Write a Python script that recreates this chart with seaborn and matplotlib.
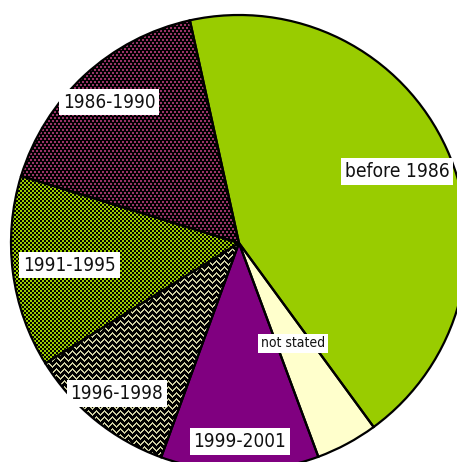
import numpy as np
import matplotlib
matplotlib.use("Agg")
import matplotlib.pyplot as plt
import seaborn as sns
from matplotlib.colors import to_rgb

# Period in which the dwelling was built, share of all dwellings (%)
periods = ["before 1986", "1986-1990", "1991-1995", "1996-1998", "1999-2001", "not stated"]
shares = [43.4, 16.8, 13.6, 10.6, 11.2, 4.4]

# label styling / placement (fraction of radius along the slice bisector)
label_sizes = [13.8, 13.6, 13.6, 13.6, 13.6, 10]
label_radius = [0.76, 0.84, 0.75, 0.85, 0.87, 0.50]

GREEN = "#99CC00"
PLUM = "#993366"
PURPLE = "#800080"
CREAM = "#FFFFCC"
BEIGE = "#CCCCA0"
BLACK = "#000000"

sns.set_theme(style="white")
plt.rcParams["font.family"] = ["DejaVu Sans"]
plt.rcParams["font.stretch"] = "condensed"

W, H, DPI = 457, 462, 100
fig = plt.figure(figsize=(W / DPI, H / DPI), dpi=DPI)
ax = fig.add_axes([0, 0, 1, 1])

# pixel geometry of the pie inside the canvas
R_PX = 228.0
CX, CY = 239.0, 243.0
xlim = (-CX / R_PX, (W - CX) / R_PX)
ylim = (-(H - CY) / R_PX, CY / R_PX)

face = [GREEN, BLACK, BLACK, BLACK, PURPLE, CREAM]
wedges, _ = ax.pie(shares, startangle=306.2, counterclock=True, colors=face,
                   wedgeprops=dict(linewidth=0, edgecolor="none"))


# ---- pixel textures for the patterned slices ----
yy, xx = np.mgrid[0:H, 0:W]


def paint(mask, fg, bg):
    img = np.empty((H, W, 3))
    img[:] = to_rgb(bg)
    img[mask] = to_rgb(fg)
    return img


# staggered 2x2 dots on black
band = yy % 6
dots = ((band < 2) & (xx % 4 < 2)) | ((band >= 3) & (band < 5) & (xx % 4 >= 2))
tex_dots = paint(dots, PLUM, BLACK)

# checkerboard on green
checker = ((yy // 2 + xx // 2) % 2) == 0
tex_checker = paint(checker, BLACK, GREEN)

# zig-zag weave on black
tri = np.abs((xx % 8) - 4)
zig = ((yy + tri) % 6) < 2
tex_zig = paint(zig, BEIGE, BLACK)

textures = {1: tex_dots, 2: tex_checker, 3: tex_zig}
for idx, tex in textures.items():
    im = ax.imshow(tex, extent=(xlim[0], xlim[1], ylim[0], ylim[1]),
                   origin="upper", interpolation="nearest", zorder=1.5)
    im.set_clip_path(wedges[idx])

# black outlines on top
ax.pie(shares, startangle=306.2, counterclock=True,
       wedgeprops=dict(fill=False, linewidth=1.6, edgecolor="black", zorder=2))

# slice labels in white boxes
for w, name, fs, r in zip(wedges, periods, label_sizes, label_radius):
    ang = np.deg2rad((w.theta1 + w.theta2) / 2)
    ax.text(r * np.cos(ang), r * np.sin(ang), name, ha="center", va="center",
            fontsize=fs, color="#111111", zorder=3,
            bbox=dict(boxstyle="square,pad=0.2", fc="white", ec="none"))

ax.set_xlim(*xlim)
ax.set_ylim(*ylim)
ax.set_aspect("auto")
ax.axis("off")

fig.savefig("out.png", dpi=DPI)
